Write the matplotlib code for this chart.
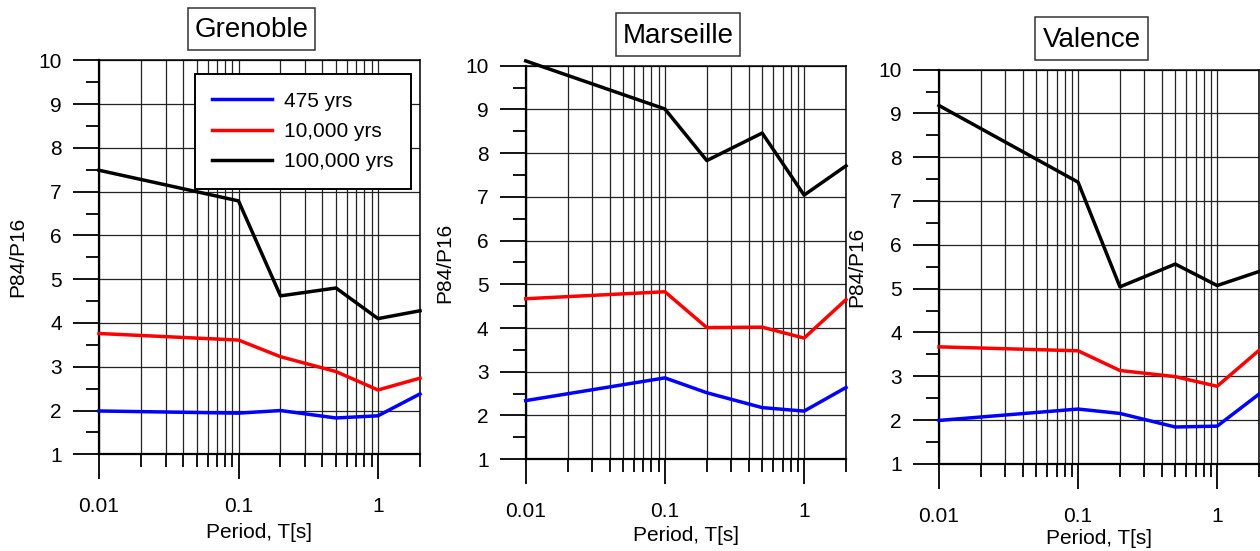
import matplotlib
matplotlib.use("Agg")
import matplotlib.pyplot as plt
from matplotlib.patches import Rectangle
from matplotlib.ticker import LogLocator, FixedLocator, NullFormatter, MultipleLocator

plt.rcParams['font.family'] = ['Liberation Sans', 'DejaVu Sans']

# data
periods = [0.01, 0.1, 0.2, 0.5, 1, 2]
series_names = ["475 yrs", "10,000 yrs", "100,000 yrs"]
series_colors = ["#0000ff", "#ff0000", "#000000"]

grenoble_475 = [1.99, 1.94, 2.00, 1.83, 1.88, 2.38]
grenoble_10k = [3.76, 3.61, 3.23, 2.89, 2.47, 2.74]
grenoble_100k = [7.49, 6.79, 4.62, 4.80, 4.10, 4.28]

marseille_475 = [2.34, 2.86, 2.52, 2.18, 2.10, 2.64]
marseille_10k = [4.67, 4.83, 4.01, 4.02, 3.77, 4.65]
marseille_100k = [10.11, 9.01, 7.83, 8.46, 7.04, 7.71]

valence_475 = [1.99, 2.25, 2.15, 1.84, 1.86, 2.59]
valence_10k = [3.67, 3.58, 3.13, 2.99, 2.77, 3.59]
valence_100k = [9.18, 7.43, 5.04, 5.56, 5.07, 5.39]

W, H = 1260, 551


def px_axes(left, right, top, bottom):
    return [left / W, 1 - bottom / H, (right - left) / W, (bottom - top) / H]


def title_box(fig, text, box):
    # box = (left, right, top, bottom) in pixels
    l, r, t, b = box
    fig.patches.append(Rectangle((l / W, 1 - b / H), (r - l) / W, (b - t) / H,
                                 transform=fig.transFigure, fc='white',
                                 ec='#333333', lw=1.1))
    base = (t + b) / 2 + 8.3
    fig.text((l + r) / 2 / W, 1 - base / H, text, fontsize=20,
             ha='center', va='baseline')


def make_panel(fig, box, title, tbox, ylab_x, xlab_y, curves, legend=False):
    ax = fig.add_axes(px_axes(*box))
    for vals, name, col in zip(curves, series_names, series_colors):
        ax.plot(periods, vals, color=col, lw=2.5, label=name, clip_on=False, zorder=5)
    ax.set_xscale('log')
    ax.set_xlim(0.01, 2)
    ax.set_ylim(1, 10)
    ax.xaxis.set_major_locator(FixedLocator([0.01, 0.1, 1]))
    ax.set_xticklabels(['0.01', '0.1', '1'])
    ax.xaxis.set_minor_locator(LogLocator(base=10, subs=range(2, 10)))
    ax.xaxis.set_minor_formatter(NullFormatter())
    ax.yaxis.set_major_locator(MultipleLocator(1))
    ax.yaxis.set_minor_locator(MultipleLocator(0.5))
    ax.tick_params(axis='x', which='major', direction='out', length=18, width=1.3,
                   pad=13, labelsize=15)
    ax.tick_params(axis='x', which='minor', direction='out', length=9.4, width=1.3)
    ax.tick_params(axis='y', which='major', direction='out', length=18.7, width=1.3,
                   pad=8, labelsize=15)
    ax.tick_params(axis='y', which='minor', direction='out', length=9.4, width=1.3)
    ax.grid(True, which='major', axis='both', color='#222222', lw=0.9)
    ax.grid(True, which='minor', axis='x', color='#222222', lw=0.9)
    ax.set_axisbelow(True)
    ax.spines['left'].set_linewidth(1.6)
    ax.spines['bottom'].set_linewidth(1.6)
    ax.spines['top'].set_linewidth(1.1)
    ax.spines['right'].set_linewidth(1.1)

    title_box(fig, title, tbox)
    cx = (box[0] + box[1]) / 2
    cy = (box[2] + box[3]) / 2
    fig.text(ylab_x / W, 1 - cy / H, 'P84/P16', fontsize=15, rotation=90,
             ha='center', va='center')
    fig.text(cx / W, 1 - xlab_y / H, 'Period, T[s]', fontsize=15,
             ha='center', va='baseline')

    if legend:
        leg = ax.legend(loc='upper right', bbox_to_anchor=(0.972, 0.966), fontsize=15,
                        handlelength=2.85, handletextpad=0.58, borderpad=0.85,
                        labelspacing=0.55, borderaxespad=0, fancybox=False,
                        framealpha=1, edgecolor='black')
        leg.get_frame().set_linewidth(1.4)
        leg.set_zorder(10)
    return ax


fig = plt.figure(figsize=(W / 100, H / 100), dpi=100)

make_panel(fig, (99, 420, 60.4, 454.3), 'Grenoble', (188, 315, 8, 50), 18, 537.5,
           [grenoble_475, grenoble_10k, grenoble_100k], legend=True)
make_panel(fig, (525.7, 846, 65.7, 459.2), 'Marseille', (616, 740, 13.4, 56.2), 445, 541,
           [marseille_475, marseille_10k, marseille_100k])
make_panel(fig, (939, 1259, 69.6, 463.8), 'Valence', (1035, 1148, 16.9, 59.7), 857, 544.5,
           [valence_475, valence_10k, valence_100k])

fig.savefig('out.png', dpi=100)
